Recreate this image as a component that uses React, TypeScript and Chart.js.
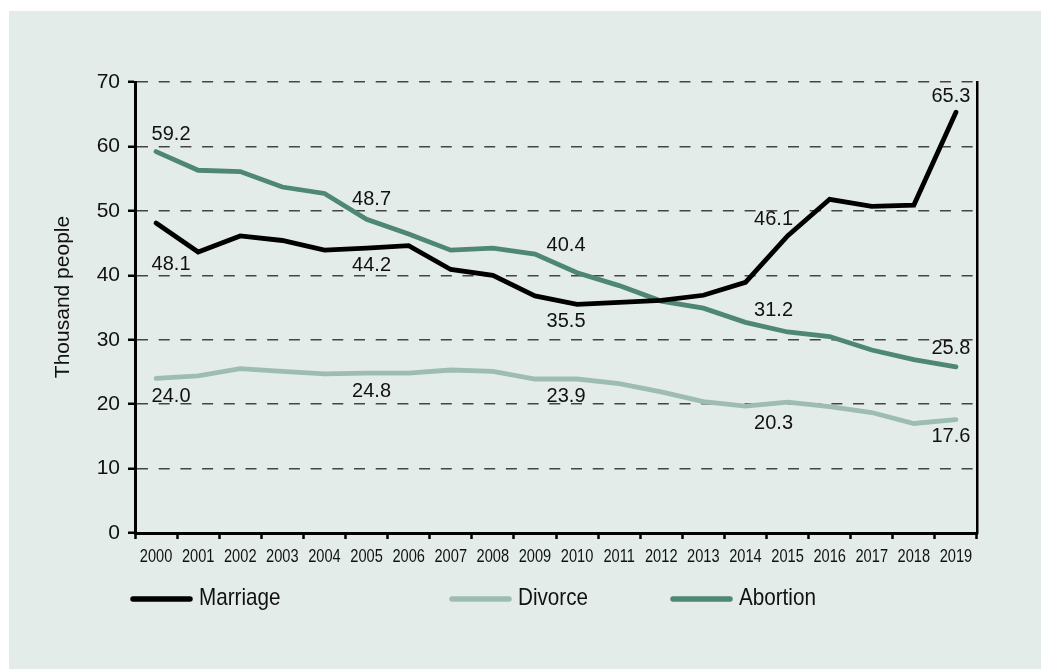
import React, { useEffect, useRef } from "react";
import { Chart, registerables } from "chart.js";

Chart.register(...registerables);

const years = ["2000","2001","2002","2003","2004","2005","2006","2007","2008","2009","2010","2011","2012","2013","2014","2015","2016","2017","2018","2019"];
const marriage = [48.1, 43.6, 46.1, 45.4, 43.9, 44.2, 44.6, 40.9, 40.0, 36.8, 35.5, 35.8, 36.1, 36.9, 38.9, 46.1, 51.8, 50.7, 50.9, 65.3];
const divorce = [24.0, 24.4, 25.5, 25.1, 24.7, 24.8, 24.8, 25.3, 25.1, 23.9, 23.9, 23.2, 21.9, 20.4, 19.7, 20.3, 19.6, 18.7, 17.0, 17.6];
const abortion = [59.2, 56.3, 56.1, 53.7, 52.7, 48.7, 46.4, 43.9, 44.2, 43.3, 40.4, 38.4, 36.0, 34.9, 32.7, 31.2, 30.5, 28.4, 26.9, 25.8];
const seriesNames = ["Marriage", "Divorce", "Abortion"];
const yTicks = [0, 10, 20, 30, 40, 50, 60, 70];
const labelIndices = [0, 5, 10, 15, 19];

// label placement (pixels), kept apart from the data
const labelDx = [15, 5, -11, -14, -5];
const labelDy = [
  [41, 17, 17, -16, -16],
  [18, 18, 17, 21, 17],
  [-17, -20, -27, -21, -18],
];
const colors = ["#000000", "#9dbdb1", "#4e8872"];
const legendX = [133, 452, 673];
const legendY = 599;

const SANS = "'Liberation Sans', Arial, sans-serif";

function narrowText(ctx: any, text: string, x: number, y: number, size: number, squeeze: number, align: "left" | "center") {
  ctx.save();
  ctx.font = `${size}px ${SANS}`;
  ctx.textBaseline = "alphabetic";
  ctx.textAlign = align;
  ctx.translate(x, y);
  ctx.scale(squeeze, 1);
  ctx.fillText(text, 0, 0);
  ctx.restore();
}

const overlay = {
  id: "overlay",
  afterDatasetsDraw(chart: any) {
    const ctx = chart.ctx;
    const xs = chart.scales.x;
    const ys = chart.scales.y;
    ctx.save();
    ctx.fillStyle = "#111";
    ctx.font = `20px ${SANS}`;
    ctx.textAlign = "center";
    ctx.textBaseline = "middle";
    chart.data.datasets.forEach((ds: any, si: number) => {
      labelIndices.forEach((idx, k) => {
        const v = ds.data[idx];
        const px = xs.getPixelForValue(idx) + labelDx[k];
        const py = ys.getPixelForValue(v) + labelDy[si][k];
        ctx.fillText(v.toFixed(1), px, py);
      });
    });
    ctx.restore();
  },
  afterDraw(chart: any) {
    const ctx = chart.ctx;
    const xs = chart.scales.x;
    // x tick labels (condensed)
    ctx.save();
    ctx.fillStyle = "#111";
    chart.data.labels.forEach((lab: string, i: number) => {
      narrowText(ctx, lab, xs.getPixelForValue(i), xs.top + 29, 18.5, 0.79, "center");
    });
    ctx.restore();
    // y-axis title
    ctx.save();
    ctx.translate(63, 297);
    ctx.rotate(-Math.PI / 2);
    ctx.font = `21px ${SANS}`;
    ctx.fillStyle = "#111";
    ctx.textAlign = "center";
    ctx.textBaseline = "middle";
    ctx.fillText("Thousand people", 0, 0);
    ctx.restore();
    // legend
    ctx.save();
    chart.data.datasets.forEach((ds: any, i: number) => {
      const x0 = legendX[i];
      ctx.strokeStyle = ds.borderColor;
      ctx.lineWidth = 5.5;
      ctx.lineCap = "round";
      ctx.beginPath();
      ctx.moveTo(x0, legendY);
      ctx.lineTo(x0 + 57, legendY);
      ctx.stroke();
      ctx.fillStyle = "#111";
      narrowText(ctx, ds.label, x0 + 66, legendY + 6, 24, 0.86, "left");
    });
    ctx.restore();
  },
};

export default function App() {
  const ref = useRef<HTMLCanvasElement>(null);
  useEffect(() => {
    if (!ref.current) return;
    const seriesData = [marriage, divorce, abortion];
    const chart = new Chart(ref.current, {
      type: "line",
      data: {
        labels: years,
        datasets: seriesData.map((d, i) => ({
          label: seriesNames[i],
          data: d,
          borderColor: colors[i],
          backgroundColor: colors[i],
          borderWidth: 4.8,
          pointRadius: 0,
          tension: 0,
          borderCapStyle: "round" as const,
          borderJoinStyle: "miter" as const,
        })),
      },
      options: {
        responsive: false,
        animation: false,
        layout: { padding: { left: 0, top: 82, right: 64, bottom: 0 } },
        plugins: { legend: { display: false }, tooltip: { enabled: false }, title: { display: false } },
        scales: {
          x: {
            type: "category",
            offset: true,
            grid: {
              offset: true,
              drawOnChartArea: false,
              drawTicks: true,
              tickLength: 6,
              tickColor: "#000",
              tickWidth: 2.5,
            },
            border: { display: true, color: "#000", width: 3 },
            ticks: { display: false, autoSkip: false, maxRotation: 0 },
            afterFit: (s: any) => { s.height = 136; },
          },
          y: {
            min: 0,
            max: 70,
            afterBuildTicks: (s: any) => { s.ticks = yTicks.map((v) => ({ value: v })); },
            grid: {
              color: "#444",
              lineWidth: 1.5,
              drawTicks: true,
              tickLength: 7,
              tickColor: "#000",
              tickWidth: 2.5,
              tickBorderDash: [],
            },
            border: { display: true, color: "#000", width: 3, dash: [11, 10.7] },
            ticks: {
              color: "#111",
              font: { family: SANS, size: 21 },
              padding: 8,
            },
            afterFit: (s: any) => { s.width = 135; },
          },
          y2: {
            position: "right",
            min: 0,
            max: 70,
            grid: { display: false, drawOnChartArea: false, drawTicks: false },
            ticks: { display: false },
            border: { display: true, color: "#000", width: 2.5 },
            afterFit: (s: any) => { s.width = 0; },
          },
        },
      },
      plugins: [overlay],
    });
    return () => chart.destroy();
  }, []);
  return (
    <div style={{ position: "absolute", left: 0, top: 0, width: 1041, height: 669, background: "#fff" }}>
      <div style={{ position: "absolute", left: 9, top: 11, right: 0, bottom: 0, background: "#e4ece9" }} />
      <canvas ref={ref} width={1041} height={669} style={{ position: "absolute", left: 0, top: 0, width: 1041, height: 669 }} />
    </div>
  );
}
